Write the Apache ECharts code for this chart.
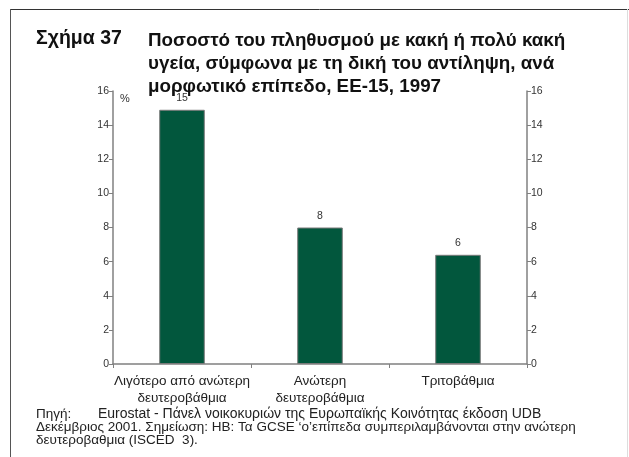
<!DOCTYPE html>
<html>
<head>
<meta charset="utf-8">
<script src="https://cdn.jsdelivr.net/npm/echarts@6/dist/echarts.min.js"></script>
<style>
  html, body { margin: 0; padding: 0; background: #fff; }
  #chart { width: 629px; height: 457px; }
</style>
</head>
<body>
<div id="chart"></div>
<script>
  // δεδομένα
  const categories = ['Λιγότερο από ανώτερη\nδευτεροβάθμια', 'Ανώτερη\nδευτεροβάθμια', 'Τριτοβάθμια'];
  const values = [14.9, 8.0, 6.4];
  const valueLabels = ['15', '8', '6'];

  const titleLines = [
    'Ποσοστό του πληθυσμού με κακή ή πολύ κακή',
    'υγεία, σύμφωνα με τη δική του αντίληψη, ανά',
    'μορφωτικό επίπεδο, ΕΕ-15, 1997'
  ];
  const noteLines = [
    'Δεκέμβριος 2001. Σημείωση: ΗΒ: Τα GCSE ‘ο’επίπεδα συμπεριλαμβάνονται στην ανώτερη',
    'δευτεροβαθμια (ISCED  3).'
  ];

  const font = 'Liberation Sans, Arial, sans-serif';
  const axisGray = '#808080';

  let myChart = echarts.init(document.getElementById('chart'));

  const valueAxis = (pos) => ({
    type: 'value',
    position: pos,
    min: 0,
    max: 16,
    interval: 2,
    splitLine: { show: false },
    axisLine: { show: true, lineStyle: { color: axisGray, width: 1.5 } },
    axisTick: { show: true, length: 4, lineStyle: { color: axisGray } },
    axisLabel: { color: '#333', fontSize: 10.5, fontFamily: font, margin: 4 }
  });

  myChart.setOption({
    animation: false,
    backgroundColor: '#fff',
    grid: { left: 113, right: 102, top: 91, bottom: 93 },
    xAxis: {
      type: 'category',
      data: categories,
      axisLine: { lineStyle: { color: axisGray, width: 1.5 } },
      axisTick: { show: true, length: 4, lineStyle: { color: axisGray } },
      axisLabel: { interval: 0, color: '#222', fontSize: 13.5, fontFamily: font, margin: 9, lineHeight: 17 }
    },
    yAxis: [valueAxis('left'), valueAxis('right')],
    series: [{
      type: 'bar',
      data: values,
      barWidth: '33%',
      itemStyle: { color: '#02573D', borderColor: '#7a7a7a', borderWidth: 1 },
      label: {
        show: true,
        position: 'top',
        distance: 6,
        color: '#333',
        fontSize: 10.5,
        fontFamily: font,
        formatter: (p) => valueLabels[p.dataIndex]
      }
    }],
    graphic: [
      // πλαίσιο
      { type: 'line', shape: { x1: 10, y1: 9.5, x2: 629, y2: 9.5 }, style: { stroke: '#333', lineWidth: 1 } },
      { type: 'line', shape: { x1: 10.5, y1: 9, x2: 10.5, y2: 457 }, style: { stroke: '#555', lineWidth: 1 } },
      { type: 'line', shape: { x1: 627.5, y1: 9, x2: 627.5, y2: 457 }, style: { stroke: '#ddd', lineWidth: 1 } },
      { type: 'text', left: 36, top: 29, style: { text: 'Σχήμα 37', font: 'bold 19.5px ' + font, fill: '#111' } },
      { type: 'text', left: 148, top: 29, style: { text: titleLines.join('\n'), font: 'bold 18.8px ' + font, fill: '#111', lineHeight: 23 } },
      { type: 'text', left: 120, top: 93, style: { text: '%', font: '11px ' + font, fill: '#333' } },
      { type: 'text', left: 36, top: 407, style: { text: 'Πηγή:', font: '13.5px ' + font, fill: '#222' } },
      { type: 'text', left: 98, top: 407, style: { text: 'Eurostat - Πάνελ νοικοκυριών της Ευρωπαϊκής Κοινότητας έκδοση UDB', font: '14px ' + font, fill: '#222' } },
      { type: 'text', left: 36, top: 420, style: { text: noteLines.join('\n'), font: '13.5px ' + font, fill: '#222', lineHeight: 13 } }
    ]
  });
</script>
</body>
</html>
